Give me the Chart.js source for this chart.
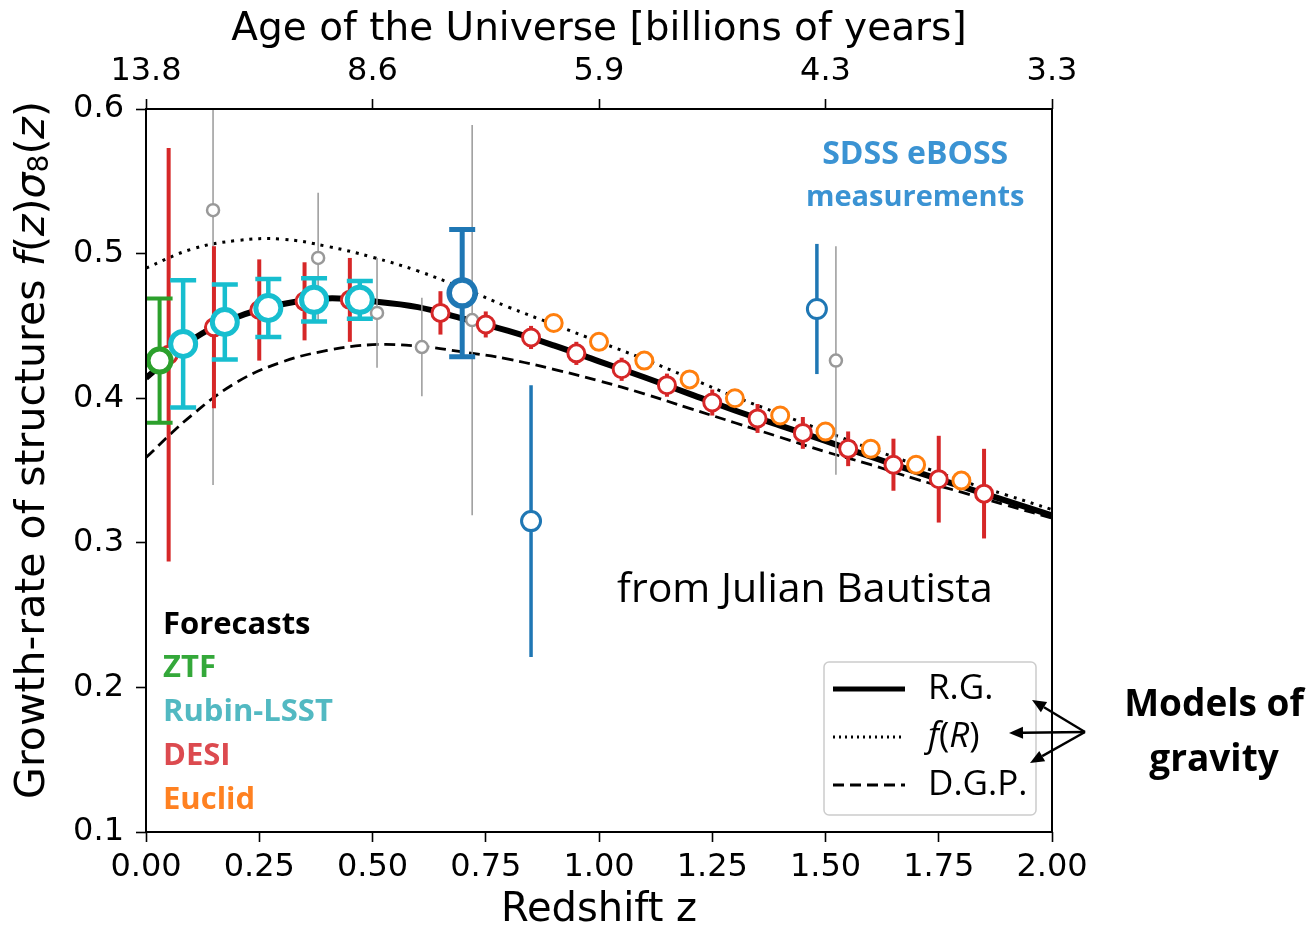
<!DOCTYPE html>
<html>
<head>
<meta charset="utf-8">
<script src="https://cdn.jsdelivr.net/npm/chart.js@4.4.0/dist/chart.umd.min.js"></script>
<style>
  html, body { margin: 0; padding: 0; background: #fff; }
</style>
</head>
<body>
<canvas id="growth" width="1313" height="930"></canvas>
<script>
// theory curves, f(z)*sigma8(z) sampled every 0.1 in redshift
const curveZ   = [0.0, 0.1, 0.2, 0.3, 0.4, 0.5, 0.6, 0.7, 0.8, 0.9, 1.0, 1.1, 1.2, 1.3, 1.4, 1.5, 1.6, 1.7, 1.8, 1.9, 2.0];
const rgCurve  = [0.414, 0.440, 0.456, 0.465, 0.469, 0.467, 0.463, 0.455, 0.4465, 0.4365, 0.4255, 0.4145, 0.403, 0.3915, 0.381, 0.3705, 0.3595, 0.349, 0.339, 0.329, 0.319];
const fRCurve  = [0.490, 0.503, 0.509, 0.510, 0.505, 0.4975, 0.488, 0.476, 0.463, 0.451, 0.439, 0.427, 0.414, 0.401, 0.389, 0.377, 0.365, 0.354, 0.343, 0.333, 0.323];
const dgpCurve = [0.359, 0.388, 0.411, 0.425, 0.433, 0.437, 0.436, 0.432, 0.427, 0.420, 0.412, 0.403, 0.393, 0.383, 0.373, 0.363, 0.354, 0.344, 0.335, 0.326, 0.317];

// forecasts
const ztfZ = [0.03];
const ztfF = [0.426];
const ztfErr = [0.043];

const rubinZ = [0.082, 0.174, 0.27, 0.371, 0.472];
const rubinF = [0.4375, 0.4527, 0.4624, 0.468, 0.468];
const rubinErr = [0.044, 0.026, 0.020, 0.015, 0.013];

const desiZ = [0.05, 0.15, 0.25, 0.35, 0.45, 0.65, 0.75, 0.85, 0.95, 1.05, 1.15, 1.25, 1.35, 1.45, 1.55, 1.65, 1.75, 1.85];
const desiF = [0.430, 0.449, 0.461, 0.467, 0.468, 0.459, 0.451, 0.442, 0.431, 0.420, 0.409, 0.397, 0.386, 0.376, 0.365, 0.354, 0.344, 0.334];
const desiErr = [0.143, 0.056, 0.035, 0.027, 0.029, 0.015, 0.009, 0.008, 0.008, 0.008, 0.008, 0.009, 0.010, 0.011, 0.012, 0.018, 0.030, 0.031];

const euclidZ = [0.9, 1.0, 1.1, 1.2, 1.3, 1.4, 1.5, 1.6, 1.7, 1.8];
const euclidF = [0.452, 0.439, 0.426, 0.413, 0.400, 0.388, 0.377, 0.365, 0.354, 0.343];

// measurements
const sdssZ = [0.698, 0.85, 1.481];
const sdssF = [0.4727, 0.315, 0.4617];
const sdssErr = [0.044, 0.094, 0.045];

const otherZ = [0.148, 0.38, 0.51, 0.609, 0.72, 1.523];
const otherF = [0.530, 0.497, 0.459, 0.4354, 0.454, 0.426];
const otherErr = [0.19, 0.045, 0.038, 0.034, 0.135, 0.079];

// top axis: age of the universe at given redshifts
const ageZ = [0, 0.5, 1.0, 1.5, 2.0];
const ageLabels = ['13.8', '8.6', '5.9', '4.3', '3.3'];

const toXY = (xs, ys) => xs.map((x, i) => ({ x: x, y: ys[i] }));
const pick = (v, i) => Array.isArray(v) ? v[i] : v;

const C = {
  green: '#2ca02c', cyan: '#17becf', red: '#d62728', orange: '#ff7f0e',
  blue: '#1f77b4', gray: '#999999',
  ztfText: '#34a83a', rubinText: '#52b9c2', desiText: '#dc4a4f', euclidText: '#ff8121', sdssText: '#3b93d3'
};

// vertical error bars drawn just below each dataset's markers
const errorBars = {
  id: 'errorBars',
  beforeDatasetDraw(chart, args) {
    const ds = chart.data.datasets[args.index];
    if (!ds.errors) return;
    const { ctx, chartArea, scales } = chart;
    ctx.save();
    ctx.beginPath();
    ctx.rect(chartArea.left, chartArea.top, chartArea.width, chartArea.height);
    ctx.clip();
    ctx.strokeStyle = ds.borderColor;
    ctx.lineCap = 'butt';
    ds.data.forEach((p, i) => {
      const e = ds.errors[i];
      const px = scales.x.getPixelForValue(p.x);
      const top = scales.y.getPixelForValue(p.y + e);
      const bot = scales.y.getPixelForValue(p.y - e);
      ctx.lineWidth = pick(ds.errWidth, i);
      ctx.beginPath();
      ctx.moveTo(px, top);
      ctx.lineTo(px, bot);
      const cap = pick(ds.capSize, i) || 0;
      if (cap) {
        ctx.moveTo(px - cap, top); ctx.lineTo(px + cap, top);
        ctx.moveTo(px - cap, bot); ctx.lineTo(px + cap, bot);
      }
      ctx.stroke();
    });
    ctx.restore();
  }
};

// text made of runs with different fonts (italic symbols, subscripts)
function drawRuns(ctx, runs, x, y, align) {
  let total = 0;
  runs.forEach(r => { ctx.font = r.font; total += ctx.measureText(r.text).width; });
  let cx = align === 'center' ? x - total / 2 : x;
  runs.forEach(r => {
    ctx.font = r.font;
    ctx.fillText(r.text, cx, y + (r.dy || 0));
    cx += ctx.measureText(r.text).width;
  });
}

function arrow(ctx, x0, y0, x1, y1) {
  const a = Math.atan2(y1 - y0, x1 - x0);
  const hl = 14, hw = 6;
  const bx = x1 - hl * Math.cos(a), by = y1 - hl * Math.sin(a);
  ctx.beginPath();
  ctx.moveTo(x0, y0);
  ctx.lineTo(bx, by);
  ctx.stroke();
  ctx.beginPath();
  ctx.moveTo(x1, y1);
  ctx.lineTo(bx + hw * Math.sin(a), by - hw * Math.cos(a));
  ctx.lineTo(bx - hw * Math.sin(a), by + hw * Math.cos(a));
  ctx.closePath();
  ctx.fill();
}

const decorations = {
  id: 'decorations',
  afterDraw(chart) {
    const { ctx, chartArea: ca, scales } = chart;
    const X = v => scales.x.getPixelForValue(v);
    const Y = v => scales.y.getPixelForValue(v);
    const dv = '"DejaVu Sans"';
    ctx.save();

    // frame
    ctx.strokeStyle = '#000';
    ctx.lineWidth = 2;
    ctx.strokeRect(ca.left, ca.top, ca.width, ca.height);

    // axis titles
    ctx.fillStyle = '#000';
    ctx.textBaseline = 'middle';
    ctx.textAlign = 'left';
    const midX = (ca.left + ca.right) / 2;
    drawRuns(ctx, [{ text: 'Redshift z', font: '40px ' + dv }], midX, 911, 'center');
    drawRuns(ctx, [{ text: 'Age of the Universe [billions of years]', font: '39px ' + dv }], midX, 30, 'center');

    ctx.save();
    ctx.translate(33, 450);
    ctx.rotate(-Math.PI / 2);
    const n = '41px ' + dv, it = 'italic 41px ' + dv;
    drawRuns(ctx, [
      { text: 'Growth-rate of structures ', font: n },
      { text: 'f', font: it }, { text: '(', font: n }, { text: 'z', font: it }, { text: ')', font: n },
      { text: 'σ', font: it }, { text: '8', font: '28px ' + dv, dy: 8 },
      { text: '(', font: n }, { text: 'z', font: it }, { text: ')', font: n }
    ], 0, 0, 'center');
    ctx.restore();

    // survey names
    ctx.textAlign = 'left';
    const lb = 'bold 31px "Open Sans"';
    [['Forecasts', '#000', 0.243], ['ZTF', C.ztfText, 0.2134], ['Rubin-LSST', C.rubinText, 0.183],
     ['DESI', C.desiText, 0.1526], ['Euclid', C.euclidText, 0.1221]].forEach(([t, c, yv]) => {
      ctx.font = lb; ctx.fillStyle = c;
      ctx.fillText(t, X(0.0375), Y(yv));
    });
    ctx.textAlign = 'center';
    ctx.fillStyle = C.sdssText;
    ctx.font = 'bold 32px "Open Sans"';
    ctx.fillText('SDSS eBOSS', X(1.698), Y(0.568));
    ctx.font = 'bold 29px "Open Sans"';
    ctx.fillText('measurements', X(1.698), Y(0.5385));

    ctx.textAlign = 'left';
    ctx.fillStyle = '#000';
    ctx.font = '41px "Open Sans"';
    ctx.fillText('from Julian Bautista', X(1.04), Y(0.2674));

    // legend of the gravity models
    const bx = ca.right - 228, by = ca.bottom - 170, bw = 212, bh = 153;
    ctx.fillStyle = '#fff';
    ctx.strokeStyle = '#cccccc';
    ctx.lineWidth = 1.5;
    ctx.beginPath();
    ctx.roundRect(bx, by, bw, bh, 5);
    ctx.fill();
    ctx.stroke();
    const lf = '35px "Open Sans"', lfi = 'italic 35px "Open Sans"';
    chart.data.datasets.filter(d => d.legendRuns).forEach((d, k) => {
      const ly = by + 27 + k * 48;
      ctx.strokeStyle = d.borderColor;
      ctx.lineWidth = Math.min(d.borderWidth, 5);
      ctx.setLineDash(d.legendDash || d.borderDash || []);
      ctx.beginPath();
      ctx.moveTo(bx + 9, ly);
      ctx.lineTo(bx + 81, ly);
      ctx.stroke();
      ctx.setLineDash([]);
      ctx.fillStyle = '#000';
      ctx.textAlign = 'left';
      drawRuns(ctx, d.legendRuns.map(r => ({ text: r[0], font: r[1] ? lfi : lf })), bx + 104, ly, 'left');
    });

    // arrows pointing from the side note to the legend
    ctx.strokeStyle = '#000';
    ctx.fillStyle = '#000';
    ctx.lineWidth = 2.4;
    const tx = ca.right + 33, ty = by + 70;
    arrow(ctx, tx, ty, ca.right - 20, by + 38);
    arrow(ctx, tx, ty, ca.right - 43, by + 71);
    arrow(ctx, tx, ty, ca.right - 22, by + 101);
    ctx.textAlign = 'center';
    ctx.font = 'bold 37px "Open Sans"';
    ctx.fillText('Models of', 1214, 705);
    ctx.fillText('gravity', 1214, 760);

    ctx.restore();
  }
};

const tickFont = { family: 'DejaVu Sans', size: 32 };
const axisGrid = { drawOnChartArea: false, drawTicks: true, tickLength: 10, tickColor: '#000', tickWidth: 1.6 };

const curve = (ys, width, dash, label, legendDash) => ({
  type: 'line',
  data: toXY(curveZ, ys),
  borderColor: '#000',
  borderWidth: width,
  borderDash: dash,
  legendDash: legendDash,
  pointRadius: 0,
  fill: false,
  tension: 0.4,
  legendRuns: label,
  order: 9
});

new Chart(document.getElementById('growth'), {
  type: 'scatter',
  data: {
    datasets: [
      curve(rgCurve, 6, [], [['R.G.', false]]),
      curve(fRCurve, 3, [3, 6], [['f', true], ['(', false], ['R', true], [')', false]], [2, 4]),
      curve(dgpCurve, 2.8, [11, 6], [['D.G.P.', false]]),
      {
        data: toXY(otherZ, otherF), errors: otherErr, errWidth: 1.5,
        borderColor: C.gray, backgroundColor: '#fff', pointRadius: 6, borderWidth: 2.5, order: 6
      },
      {
        data: toXY(desiZ, desiF), errors: desiErr, errWidth: 4,
        borderColor: C.red, backgroundColor: '#fff', pointRadius: 8.5, borderWidth: 3, order: 5
      },
      {
        data: toXY(euclidZ, euclidF),
        borderColor: C.orange, backgroundColor: '#fff', pointRadius: 8.5, borderWidth: 3, order: 4
      },
      {
        data: toXY(ztfZ, ztfF), errors: ztfErr, errWidth: 4, capSize: 13,
        borderColor: C.green, backgroundColor: '#fff', pointRadius: 11.5, borderWidth: 5, order: 3
      },
      {
        data: toXY(rubinZ, rubinF), errors: rubinErr, errWidth: 4.5, capSize: 13,
        borderColor: C.cyan, backgroundColor: '#fff', pointRadius: 12.5, borderWidth: 5, order: 2
      },
      {
        data: toXY(sdssZ, sdssF), errors: sdssErr, errWidth: [5, 3.5, 3.5], capSize: [13, 0, 0],
        borderColor: C.blue, backgroundColor: '#fff', pointRadius: [13, 9.5, 9.5], borderWidth: [5.5, 3, 3], order: 1
      }
    ]
  },
  options: {
    responsive: false,
    animation: false,
    devicePixelRatio: 1,
    layout: { padding: { left: 0, right: 261, top: 0, bottom: 0 } },
    plugins: { legend: { display: false }, tooltip: { enabled: false } },
    elements: { point: { hoverRadius: 0 } },
    scales: {
      x: {
        type: 'linear', position: 'bottom', min: 0, max: 2,
        afterFit: s => { s.height = 98; },
        ticks: { stepSize: 0.25, color: '#000', font: tickFont, padding: 6, maxRotation: 0, autoSkip: false,
                 callback: v => v.toFixed(2) },
        grid: axisGrid, border: { display: false }
      },
      x2: {
        type: 'linear', axis: 'x', position: 'top', min: 0, max: 2,
        afterFit: s => { s.height = 109; },
        afterBuildTicks: s => { s.ticks = ageZ.map(v => ({ value: v })); },
        ticks: { color: '#000', font: tickFont, padding: 8, maxRotation: 0, autoSkip: false,
                 callback: (v, i) => ageLabels[i] },
        grid: axisGrid, border: { display: false }
      },
      y: {
        type: 'linear', position: 'left', min: 0.1, max: 0.6,
        afterFit: s => { s.width = 146; },
        ticks: { stepSize: 0.1, color: '#000', font: tickFont, padding: 12,
                 callback: v => v.toFixed(1) },
        grid: axisGrid, border: { display: false }
      }
    }
  },
  plugins: [errorBars, decorations]
});
</script>
</body>
</html>
